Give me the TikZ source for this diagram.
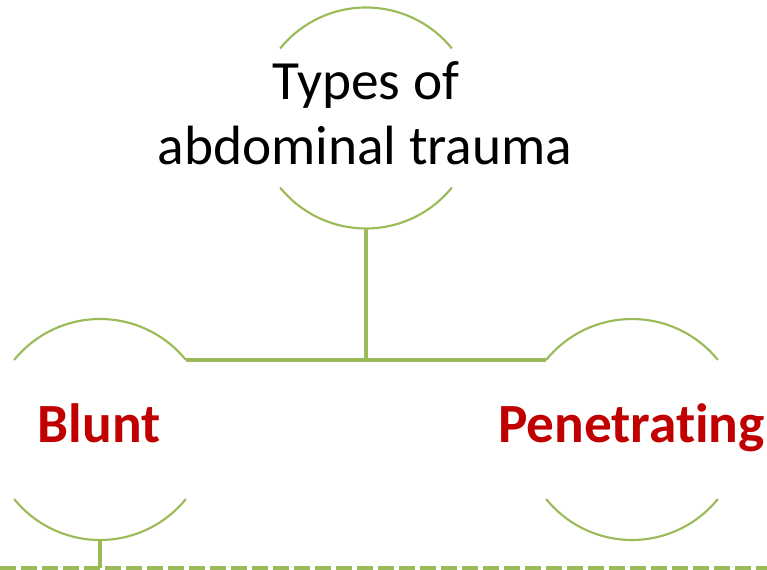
\documentclass[tikz,border=0pt]{standalone}
\usepackage{fontspec}
\setmainfont{Carlito}[Ligatures=NoCommon]
\definecolor{leafgreen}{HTML}{9BBB59}
\definecolor{darkred}{HTML}{C00000}
\begin{document}
\begin{tikzpicture}[x=0.75pt,y=0.75pt,
  ring/.style={circle,minimum size=165.75pt,inner sep=0pt,outer sep=0pt},
  arcline/.style={draw=leafgreen,line width=1.6pt},
  link/.style={draw=leafgreen,line width=2.5pt},
  dashline/.style={draw=leafgreen,line width=3.75pt,dash pattern=on 12pt off 3.75pt},
  maintxt/.style={font=\fontsize{41.5}{48.75}\selectfont,text=black,anchor=base,inner sep=0pt},
  subtxt/.style={font=\fontsize{41.5}{48.75}\selectfont\bfseries,text=darkred,anchor=base,inner sep=0pt}]
\useasboundingbox (0,0) rectangle (767,570);
\clip (0,0) rectangle (767,570);
% circles (only arcs visible)
\node[ring] (c0) at (366,452) {};
\node[ring] (c1) at (100,140.5) {};
\node[ring] (c2) at (632,140.5) {};
\foreach \n in {c0,c1,c2}{
  \draw[arcline] (\n.39) arc[start angle=39,end angle=141,radius=82.875pt];
  \draw[arcline] (\n.-141) arc[start angle=-141,end angle=-39,radius=82.875pt];
}
% texts
\node[maintxt] (t0a) at (366,470) {Types of};
\node[maintxt] (t0b) at (365,405) {abdominal trauma};
\node[subtxt] (t1) at (99,127) {Blunt};
\node[subtxt] (t2) at (631.5,127) {Penetrating};
% connectors
\draw[link] (c1.39) -- (c2.141);
\draw[link] (c0.south) -- (c0.south |- c1.39);
\coordinate (dl) at (0,1.5);
\coordinate (dr) at (767,1.5);
\draw[dashline] (dl) -- (dr);
\draw[link] (c1.south) -- (c1.south |- dl);
\end{tikzpicture}
\end{document}
